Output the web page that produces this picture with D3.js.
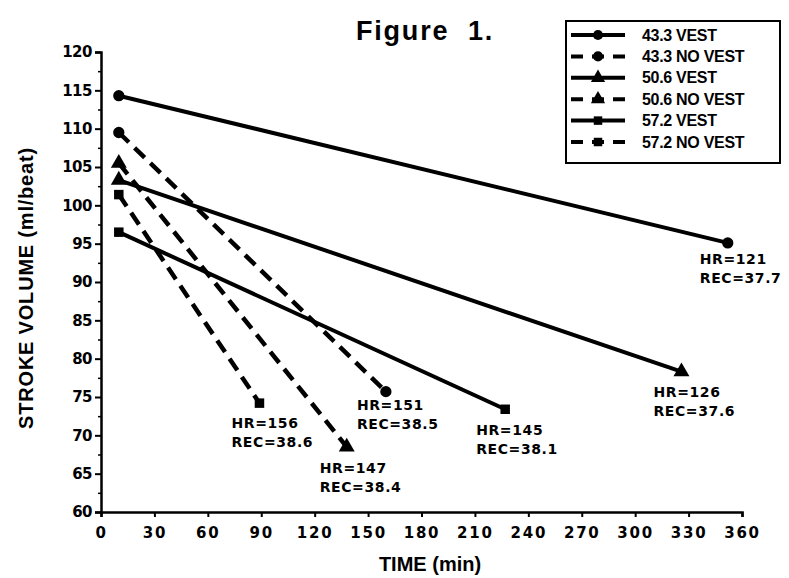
<!DOCTYPE html>
<html lang="en">
<head>
    <meta charset="UTF-8">
    <title>Figure 1.</title>
    <script src="https://d3js.org/d3.v7.min.js"></script>
    <style>
        body { margin: 0; background: #fff; }
        text { font-family: "Liberation Sans", Arial, sans-serif; font-weight: bold; fill: #000; }
    </style>
</head>
<body>

<script>
    // Data
    var seriesNames = ['43.3 VEST', '43.3 NO VEST', '50.6 VEST', '50.6 NO VEST', '57.2 VEST', '57.2 NO VEST'];
    var times = [[10, 352], [10, 160], [10, 326], [10, 138], [10, 227], [10, 89]];
    var volumes = [[114.3, 95.1], [109.5, 75.7], [103.3, 78.3], [105.5, 68.5], [96.5, 73.4], [101.4, 74.2]];
    var hrLabels = ['HR=121', 'HR=151', 'HR=126', 'HR=147', 'HR=145', 'HR=156'];
    var recLabels = ['REC=37.7', 'REC=38.5', 'REC=37.6', 'REC=38.4', 'REC=38.1', 'REC=38.6'];
    var markers = ['circle', 'circle', 'triangle', 'triangle', 'square', 'square'];
    var dashed = [false, true, false, true, false, true];
    var xTicks = d3.range(0, 361, 30);
    var yTicks = d3.range(60, 121, 5);

    // label offsets from the last point (px)
    var labelOffset = [[-28, 21], [-29, 18], [-28, 25], [-27, 26], [-29, 26], [-28, 25]];

    var width = 789, height = 578;

    var svg = d3.select("body").append("svg")
        .attr("width", width)
        .attr("height", height);

    var x = d3.scaleLinear().domain([0, 360]).range([101, 742]);
    var y = d3.scaleLinear().domain([60, 120]).range([512, 52]);

    var symbolType = { circle: d3.symbolCircle, triangle: d3.symbolTriangle, square: d3.symbolSquare };
    var symbolSize = { circle: 100, triangle: 110, square: 90 };

    // Title
    svg.append("text")
        .attr("x", 425).attr("y", 40)
        .attr("text-anchor", "middle")
        .style("font-size", "27px")
        .style("letter-spacing", "1.8px")
        .style("white-space", "pre")
        .text("Figure  1.");

    // Axes
    var yAxis = svg.append("g")
        .attr("transform", "translate(101,0)")
        .call(d3.axisLeft(y).tickValues(yTicks).tickSize(6).tickPadding(3));
    svg.append("g")
        .attr("transform", "translate(101,0)")
        .call(d3.axisLeft(y).tickValues(d3.range(62.5, 120, 5)).tickSize(3).tickFormat(""))
        .call(g => g.select(".domain").remove())
        .selectAll("line").attr("stroke-width", 1.5);

    var xAxis = svg.append("g")
        .attr("transform", "translate(0,512)")
        .call(d3.axisBottom(x).tickValues(xTicks).tickSize(5).tickPadding(10));

    [yAxis, xAxis].forEach(function (g) {
        g.select(".domain").attr("stroke-width", 2.5);
        g.selectAll(".tick line").attr("stroke-width", 2);
        g.selectAll(".tick text")
            .attr("font-family", null)
            .style("font-family", "'DejaVu Sans', sans-serif")
            .style("font-size", "15px")
            .style("font-weight", "bold");
    });
    xAxis.selectAll(".tick text").style("letter-spacing", "1.8px");
    yAxis.selectAll(".tick text").style("letter-spacing", "-0.5px");

    // Axis titles
    svg.append("text")
        .attr("x", 430).attr("y", 571)
        .attr("text-anchor", "middle")
        .style("font-size", "20px")
        .text("TIME (min)");

    svg.append("text")
        .attr("transform", "translate(33,288) rotate(-90)")
        .attr("text-anchor", "middle")
        .style("font-size", "20px")
        .style("letter-spacing", "0.8px")
        .text("STROKE VOLUME (ml/beat)");

    // Lines
    seriesNames.forEach(function (name, i) {
        var pts = times[i].map(function (t, j) { return [t, volumes[i][j]]; });
        svg.append("path")
            .datum(pts)
            .attr("fill", "none")
            .attr("stroke", "#000")
            .attr("stroke-width", dashed[i] ? 4.5 : 4)
            .attr("stroke-dasharray", dashed[i] ? "14,8" : null)
            .attr("d", d3.line().x(d => x(d[0])).y(d => y(d[1])));

        svg.selectAll(null)
            .data(pts)
            .enter().append("path")
            .attr("transform", d => "translate(" + x(d[0]) + "," + y(d[1]) + ")")
            .attr("d", d3.symbol().type(symbolType[markers[i]]).size(symbolSize[markers[i]]));

        // annotation at end point
        var last = pts[pts.length - 1];
        var lx = x(last[0]) + labelOffset[i][0];
        var ly = y(last[1]) + labelOffset[i][1];
        var lab = svg.append("text")
            .attr("x", lx).attr("y", ly)
            .style("font-family", "'DejaVu Sans', sans-serif")
            .style("font-size", "14px")
            .style("letter-spacing", "0.6px");
        lab.append("tspan").attr("x", lx).text(hrLabels[i]);
        lab.append("tspan").attr("x", lx).attr("dy", 19).text(recLabels[i]);
    });

    // Legend
    var legend = svg.append("g");
    legend.append("rect")
        .attr("x", 566).attr("y", 21)
        .attr("width", 214).attr("height", 142)
        .attr("fill", "none")
        .attr("stroke", "#000")
        .attr("stroke-width", 2);

    seriesNames.forEach(function (name, i) {
        var ry = 35 + i * 21.4;
        legend.append("line")
            .attr("x1", 571).attr("x2", 625)
            .attr("y1", ry).attr("y2", ry)
            .attr("stroke", "#000")
            .attr("stroke-width", 4)
            .attr("stroke-dasharray", dashed[i] ? "12,9" : null);
        legend.append("path")
            .attr("transform", "translate(598," + ry + ")")
            .attr("d", d3.symbol().type(symbolType[markers[i]]).size(symbolSize[markers[i]] * 0.8));
        legend.append("text")
            .attr("x", 642).attr("y", ry + 5.5)
            .style("font-size", "16px")
            .style("letter-spacing", "-0.3px")
            .text(name);
    });
</script>

</body>
</html>
